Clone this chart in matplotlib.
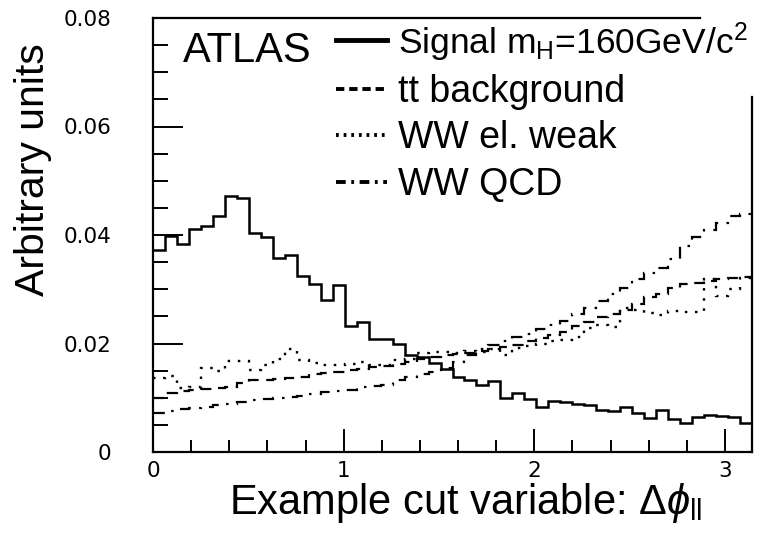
import numpy as np
import matplotlib
matplotlib.use("Agg")
import matplotlib.pyplot as plt
from matplotlib.lines import Line2D

plt.rcParams['font.family'] = ['Liberation Sans', 'DejaVu Sans']
plt.rcParams['mathtext.fontset'] = 'custom'
plt.rcParams['mathtext.rm'] = 'Liberation Sans'
plt.rcParams['mathtext.it'] = 'Liberation Sans:italic'
plt.rcParams['lines.scale_dashes'] = False

# ---- data (50 bins over 0..pi) ----
n_bins = 50
x_max = np.pi

signal = [0.0373, 0.0399, 0.0384, 0.0411, 0.0416, 0.0435, 0.0471, 0.0468, 0.0404, 0.0396,
          0.0358, 0.0364, 0.0324, 0.0309, 0.0280, 0.0307, 0.0233, 0.0239, 0.0209, 0.0209,
          0.0199, 0.0179, 0.0176, 0.0164, 0.0153, 0.0138, 0.0132, 0.0123, 0.0130, 0.0100,
          0.0109, 0.0097, 0.0083, 0.0094, 0.0092, 0.0088, 0.0086, 0.0078, 0.0076, 0.0083,
          0.0071, 0.0063, 0.0077, 0.0060, 0.0054, 0.0065, 0.0068, 0.0066, 0.0064, 0.0054]

tt_bkg = [0.0100, 0.0108, 0.0112, 0.0114, 0.0116, 0.0118, 0.0120, 0.0128, 0.0133, 0.0132,
          0.0134, 0.0137, 0.0139, 0.0144, 0.0145, 0.0147, 0.0151, 0.0153, 0.0156, 0.0158,
          0.0162, 0.0166, 0.0172, 0.0175, 0.0178, 0.0180, 0.0183, 0.0186, 0.0190, 0.0194,
          0.0198, 0.0205, 0.0210, 0.0216, 0.0222, 0.0232, 0.0240, 0.0248, 0.0255, 0.0262,
          0.0272, 0.0285, 0.0292, 0.0302, 0.0310, 0.0312, 0.0316, 0.0318, 0.0320, 0.0323]

ww_ew = [0.0137, 0.0140, 0.0118, 0.0120, 0.0155, 0.0150, 0.0168, 0.0168, 0.0152, 0.0160,
         0.0172, 0.0190, 0.0170, 0.0164, 0.0160, 0.0160, 0.0162, 0.0165, 0.0160, 0.0160,
         0.0170, 0.0172, 0.0182, 0.0184, 0.0185, 0.0183, 0.0186, 0.0184, 0.0190, 0.0178,
         0.0192, 0.0196, 0.0200, 0.0205, 0.0206, 0.0212, 0.0228, 0.0235, 0.0230, 0.0265,
         0.0262, 0.0257, 0.0252, 0.0260, 0.0258, 0.0258, 0.0318, 0.0288, 0.0300, 0.0320]

ww_qcd = [0.0072, 0.0076, 0.0079, 0.0081, 0.0083, 0.0086, 0.0088, 0.0092, 0.0096, 0.0097,
          0.0099, 0.0102, 0.0104, 0.0107, 0.0110, 0.0112, 0.0114, 0.0119, 0.0121, 0.0124,
          0.0132, 0.0139, 0.0144, 0.0148, 0.0155, 0.0165, 0.0178, 0.0190, 0.0198, 0.0205,
          0.0212, 0.0218, 0.0226, 0.0234, 0.0242, 0.0254, 0.0266, 0.0278, 0.0291, 0.0303,
          0.0318, 0.0330, 0.0340, 0.0355, 0.0380, 0.0397, 0.0410, 0.0422, 0.0435, 0.0438]

labels = ["Signal m$_{\\rm H}$=160GeV/c$^{2}$", "tt background", "WW el. weak", "WW QCD"]
x_ticks = [0, 1, 2, 3]
y_ticks = [0, 0.02, 0.04, 0.06, 0.08]
y_ticklabels = ["0", "0.02", "0.04", "0.06", "0.08"]

edges = np.linspace(0, x_max, n_bins + 1)

W, H = 761, 538
fig = plt.figure(figsize=(W / 100, H / 100), dpi=100)
ax = fig.add_axes([153 / W, 1 - 452 / H, 599 / W, 434 / H])

dash_tt = (0, (8, 5.5))
dot_ew = (0, (1.8, 5.5))
dashdot_qcd = (0, (8.5, 6, 1.8, 6))

ax.stairs(ww_qcd, edges, baseline=None, color='black', lw=1.6, linestyle=dashdot_qcd)
ax.stairs(ww_ew, edges, baseline=None, color='black', lw=1.7, linestyle=dot_ew)
ax.stairs(tt_bkg, edges, baseline=None, color='black', lw=1.6, linestyle=dash_tt)
ax.stairs(signal, edges, baseline=None, color='black', lw=1.8)

ax.set_xlim(0, x_max)
ax.set_ylim(0, 0.08)

# frame: partially hidden by legend box in the original
for s in ['left', 'bottom', 'top', 'right']:
    ax.spines[s].set_linewidth(1.6)
ax.spines['top'].set_bounds(0, 2.868)
ax.spines['right'].set_bounds(0, 0.0655)

ax.set_xticks(x_ticks)
ax.set_xticklabels([str(v) for v in x_ticks])
ax.set_xticks(np.arange(0, x_max, 0.2), minor=True)
ax.set_yticks(y_ticks)
ax.set_yticklabels(y_ticklabels)
ax.set_yticks(np.arange(0, 0.0801, 0.005), minor=True)

ax.tick_params(axis='both', which='both', direction='in', top=False, right=False,
               width=1.4, labelsize=15.5)
ax.tick_params(axis='y', which='major', length=21.5, pad=30)
ax.tick_params(axis='y', which='minor', length=10.8)
ax.tick_params(axis='x', which='major', length=16.5, pad=6.5)
ax.tick_params(axis='x', which='minor', length=8.6)
for lab in ax.get_xticklabels() + ax.get_yticklabels():
    lab.set_family('DejaVu Sans')

fig.text(33 / W, 1 - 170 / H, "Arbitrary units", rotation=90, ha='center', va='center',
         fontsize=29.5)
fig.text(466 / W, 1 - 514 / H, r"Example cut variable: $\mathit{\Delta\phi}_{\rm ll}$",
         ha='center', va='baseline', fontsize=30)
fig.text(183 / W, 1 - 62 / H, "ATLAS", ha='left', va='baseline', fontsize=30)

handles = [Line2D([], [], color='black', lw=3.5),
           Line2D([], [], color='black', lw=2.8, linestyle=(0, (6, 3.5))),
           Line2D([], [], color='black', lw=2.8, linestyle=(0, (2, 3.5))),
           Line2D([], [], color='black', lw=2.8, linestyle=(0, (7, 4, 2, 4)))]
leg = fig.legend(handles, labels, loc='upper left', bbox_to_anchor=(336 / W, 1 - 20 / H),
                 frameon=False, fontsize=27, handlelength=1.35, handletextpad=0.3,
                 labelspacing=0.28, borderpad=0, borderaxespad=0)
leg.get_texts()[0].set_fontsize(25.5)

fig.savefig("out.png", dpi=100)
